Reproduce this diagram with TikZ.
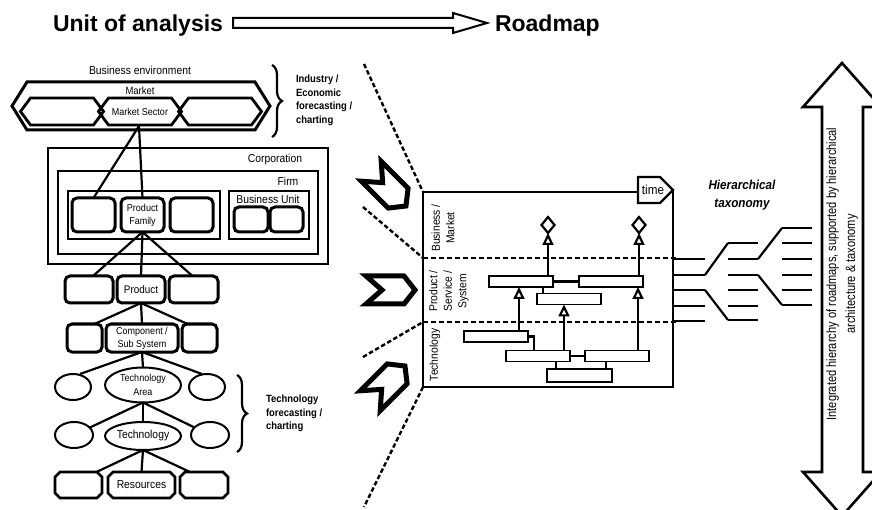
\documentclass[tikz,border=0pt]{standalone}
\usepackage{fontspec}
\setmainfont{Liberation Sans}
\newfontfamily\nf[FakeStretch=0.9]{Liberation Sans}
\newfontfamily\nnf[FakeStretch=0.82]{Liberation Sans}
\usetikzlibrary{shapes.geometric,decorations.pathreplacing,arrows.meta,calc}
\newcommand\fsz[2]{\fontsize{#1}{#2}\selectfont}
\newcommand\chamdraw[1]{\draw[cham] ($(#1.north west)+(5,0)$) -- ($(#1.north east)+(-5,0)$) -- ($(#1.north east)+(0,5)$) -- ($(#1.south east)+(0,-5)$) -- ($(#1.south east)+(-5,0)$) -- ($(#1.south west)+(5,0)$) -- ($(#1.south west)+(0,-5)$) -- ($(#1.north west)+(0,5)$) -- cycle;}
\begin{document}
\begin{tikzpicture}[x=1pt,y=-1pt,
  every node/.style={inner sep=0pt, outer sep=0pt},
  rbox/.style={draw, line width=3pt, rounded corners=5pt, align=center, font=\nf\fsz{10}{13}},
  frame/.style={draw, line width=1.6pt},
  hexa/.style={line width=2.8pt, line join=miter},
  ell/.style={ellipse, draw, line width=2pt, align=center, font=\nf\fsz{10}{14}},
  cbox/.style={rectangle, font=\nf\fsz{11.5}{13}},
  cham/.style={line width=2.8pt, line join=miter},
  link/.style={line width=2.2pt},
  bar/.style={draw, line width=1.7pt, fill=white, minimum width=64pt, minimum height=11pt},
  arr/.style={line width=2.2pt, -{Triangle[open,length=12pt,width=11pt]}},
  dia/.style={diamond, draw, line width=2.2pt, minimum width=13pt, minimum height=16pt},
  fan/.style={line width=2.4pt, dash pattern=on 4.5pt off 2.5pt},
  divider/.style={line width=2.6pt, dash pattern=on 5pt off 3pt},
  tax/.style={line width=2.2pt},
  brc/.style={decorate, decoration={brace, amplitude=10pt}, line width=2.2pt},
  lab/.style={font=\nf\bfseries\fsz{10.5}{13.5}, align=left},
  small/.style={font=\nf\fsz{11.5}{13}},
  rowlab/.style={rotate=90, align=center, font=\nf\fsz{11.5}{14.5}},
  chevron/.pic={\draw[line width=5pt, line join=miter] (-25,-14) -- (13,-14) -- (24,0) -- (13,14) -- (-25,14) -- (-9,0) -- cycle;}
]
\useasboundingbox (0,0) rectangle (872,510);
\fill[white] (0,0) rectangle (872,510);
\clip (0,0) rectangle (872,510);

% ---------- title ----------
\node[anchor=base west, font=\bfseries\fsz{23}{27}] (uoa) at (53,32) {Unit of analysis};
\node[anchor=base west, font=\bfseries\fsz{23}{27}] (rdm) at (495,32) {Roadmap};
\draw[line width=2pt, line join=miter] (233,18) -- (453,18) -- (453,13) -- (487,23) -- (453,33) -- (453,28) -- (233,28) -- cycle;

% ---------- business environment ----------
\node[font=\nf\fsz{11.5}{13}] (benv) at (140,70) {Business environment};
\draw[line width=3pt, line join=miter] (12,106) -- (27,82) -- (255,82) -- (270,106) -- (255,130) -- (27,130) -- cycle;
\node[font=\nf\fsz{10.5}{12}] (mkt) at (140,91) {Market};
\draw[hexa] (20.5,111.5) -- (30.5,98) -- (93.5,98) -- (103.5,111.5) -- (93.5,125) -- (30.5,125) -- cycle;
\draw[hexa] (98.5,111.5) -- (108.5,98) -- (171.5,98) -- (181.5,111.5) -- (171.5,125) -- (108.5,125) -- cycle;
\draw[hexa] (178.5,111.5) -- (188.5,98) -- (251.5,98) -- (261.5,111.5) -- (251.5,125) -- (188.5,125) -- cycle;
\node[font=\nf\fsz{10}{12}] (ms) at (140,112) {Market Sector};
\coordinate (msb) at (139,126);

\draw[brc] (272,65) -- (272,137);
\node[lab, anchor=north west] (ind) at (296,75) {Industry /\\Economic\\forecasting /\\charting};

% ---------- corporation ----------
\draw[frame] (48,148) rectangle (328,264);
\node[small] (corp) at (275,160) {Corporation};
\draw[frame] (58,171) rectangle (318,254);
\node[small] (firm) at (288,181) {Firm};
\draw[frame] (68,191) rectangle (220,239);
\draw[frame] (229,191) rectangle (309,239);
\node[small] (bu) at (268,199) {Business Unit};
\node[rbox, minimum width=43pt, minimum height=34pt] (pf1) at (93.5,215) {};
\node[rbox, minimum width=43pt, minimum height=34pt] (pf2) at (142.5,215) {Product\\Family};
\node[rbox, minimum width=43pt, minimum height=34pt] (pf3) at (191.5,215) {};
\node[rbox, minimum width=34pt, minimum height=25pt] (bu1) at (251,219.5) {};
\node[rbox, minimum width=33pt, minimum height=25pt] (bu2) at (286.5,219.5) {};

\draw[link] (msb) -- (pf1.north);
\draw[link] (msb) -- (pf2.north);

% ---------- product ----------
\node[rbox, minimum width=48pt, minimum height=27pt] (p1) at (89,289.5) {};
\node[rbox, minimum width=48pt, minimum height=27pt, font=\nf\fsz{11}{13}] (p2) at (141,289.5) {Product};
\node[rbox, minimum width=49pt, minimum height=27pt] (p3) at (193.5,289.5) {};
\draw[link] (pf2.south) -- ([xshift=4pt]p1.north);
\draw[link] (pf2.south) -- (p2.north);
\draw[link] (pf2.south) -- ([xshift=-1pt]p3.north);

% ---------- component ----------
\node[rbox, minimum width=35pt, minimum height=28pt] (c1) at (84.5,338) {};
\node[rbox, minimum width=72pt, minimum height=28pt] (c2) at (142,338) {Component /\\Sub System};
\node[rbox, minimum width=35pt, minimum height=28pt] (c3) at (199.5,338) {};
\draw[link] (p2.south) -- ([xshift=10pt]c1.north);
\draw[link] (p2.south) -- (c2.north);
\draw[link] (p2.south) -- ([xshift=-12pt]c3.north);

% ---------- technology area ----------
\node[ell, minimum width=36pt, minimum height=26pt] (e1) at (73,387) {};
\node[ell, minimum width=76pt, minimum height=35pt] (ta) at (143,385) {Technology\\Area};
\node[ell, minimum width=36pt, minimum height=26pt] (e3) at (207,387) {};
\draw[link] (c2.south) -- ([xshift=7pt]e1.north);
\draw[link] (c2.south) -- (ta.north);
\draw[link] (c2.south) -- ([xshift=-5pt]e3.north);

% ---------- technology ----------
\node[ell, minimum width=38pt, minimum height=26pt] (f1) at (74,435) {};
\node[ell, minimum width=76pt, minimum height=28pt, font=\nf\fsz{11.5}{13}] (tech) at (143,436) {Technology};
\node[ell, minimum width=38pt, minimum height=26pt] (f3) at (210,435) {};
\draw[link] (ta.south) -- (f1);
\draw[link] (ta.south) -- (tech.north);
\draw[link] (ta.south) -- (f3);

% ---------- resources ----------
\node[cbox, minimum width=47pt, minimum height=26pt] (r1) at (78.5,485) {};
\node[cbox, minimum width=67pt, minimum height=26pt] (res) at (141.5,485) {Resources};
\node[cbox, minimum width=48pt, minimum height=26pt] (r3) at (204,485) {};
\chamdraw{r1}
\chamdraw{res}
\chamdraw{r3}
\draw[link] (tech.south) -- ([xshift=18pt]r1.north);
\draw[link] (tech.south) -- (res.north);
\draw[link] (tech.south) -- ([xshift=-14pt]r3.north);

\draw[brc] (237,375) -- (237,452);
\node[lab, anchor=north west] (tfc) at (266,395) {Technology\\forecasting /\\charting};

% ---------- fan of dashed lines and chevrons ----------
\coordinate (bTL) at (423,192);
\coordinate (d1L) at (423,258);
\coordinate (d2L) at (423,322);
\coordinate (bBL) at (423,387);
\coordinate (f1e) at (364,64);
\coordinate (f2e) at (363,207);
\coordinate (f3e) at (363,357);
\coordinate (f4e) at (364,507);
\draw[fan] (f1e) -- (bTL);
\draw[fan] (f2e) -- (d1L);
\draw[fan] (f3e) -- (d2L);
\draw[fan] (bBL) -- (f4e);

\pic[rotate=-45] at (389,189) {chevron};
\pic at (391,290) {chevron};
\pic[rotate=45] at (388,383) {chevron};

% ---------- roadmap box ----------
\draw[line width=2.6pt, line join=miter] (638,192) -- (423,192) -- (423,387) -- (673,387) -- (673,190);
\draw[line width=2.4pt, line join=miter] (638,177) -- (660,177) -- (673,190) -- (660,203) -- (638,203) -- cycle;
\node[font=\nf\fsz{13}{14}] (time) at (653,190) {time};
\draw[divider] (d1L) -- (678,258);
\draw[divider] (d2L) -- (678,322);

\node[rowlab] (rl1) at (443,228) {Business /\\Market};
\node[rowlab] (rl2) at (449,291) {Product /\\Service /\\System};
\node[rowlab] (rl3) at (435,355) {Technology};

\node[bar] (B1) at (521,281.5) {};
\node[bar] (B2) at (611,281.5) {};
\node[bar] (B3) at (569,299) {};
\node[bar] (T1) at (496,336.5) {};
\node[bar] (T2) at (538,356) {};
\node[bar] (T3) at (617,356) {};
\node[bar, minimum width=65pt, minimum height=13pt] (T4) at (579.5,375.5) {};
\node[dia] (dia1) at (548,225) {};
\node[dia] (dia2) at (639,225) {};

\draw[link] (B1.east) -- (B2.west);
\draw[link] ([xshift=22pt]B1.south) -- ([xshift=-26pt]B3.north);
\draw[link] (T2.east) -- (T3.west);
\draw[link] (T1.east) -| ([xshift=-4pt]T2.north);
\draw[link] ([xshift=18pt]T2.south) -- ([xshift=-23.5pt]T4.north);
\draw[link] ([xshift=-11pt]T3.south) -- ([xshift=26.5pt]T4.north);
\draw[arr] ([xshift=23pt]T1.north) -- ([xshift=-2pt]B1.south);
\draw[arr] ([xshift=26pt]T2.north) -- ([xshift=-5pt]B3.south);
\draw[arr] ([xshift=21pt]T3.north) -- ([xshift=27pt]B2.south);
\draw[arr] ([xshift=27pt]B1.north) -- (dia1.south);
\draw[arr] ([xshift=28pt]B2.north) -- (dia2.south);

% ---------- hierarchical taxonomy ----------
\node[font=\nf\bfseries\itshape\fsz{13}{18}, align=center] (ht) at (742,195) {Hierarchical\\taxonomy};
\foreach \yy in {259,275,290,306,321} \draw[tax] (673,\yy) -- (705,\yy);
\draw[tax] (705,275) -- (728,243);
\draw[tax] (705,290) -- (728,320);
\foreach \yy in {243,259,275,290,306,320} \draw[tax] (728,\yy) -- (758,\yy);
\draw[tax] (758,259) -- (782,228);
\draw[tax] (758,275) -- (782,305);
\foreach \yy in {228,243,259,275,290,305} \draw[tax] (782,\yy) -- (812,\yy);

% ---------- big double arrow ----------
\draw[line width=2.6pt, line join=miter] (842,63) -- (881,107) -- (863,107) -- (863,472) -- (881,472) -- (842,516) -- (803,472) -- (822,472) -- (822,107) -- (803,107) -- cycle;
\node[rotate=90, align=center, font=\nnf\fsz{13.5}{19}] (bigtxt) at (842,274) {Integrated hierarchy of roadmaps, supported by hierarchical\\architecture \& taxonomy};
\end{tikzpicture}
\end{document}
